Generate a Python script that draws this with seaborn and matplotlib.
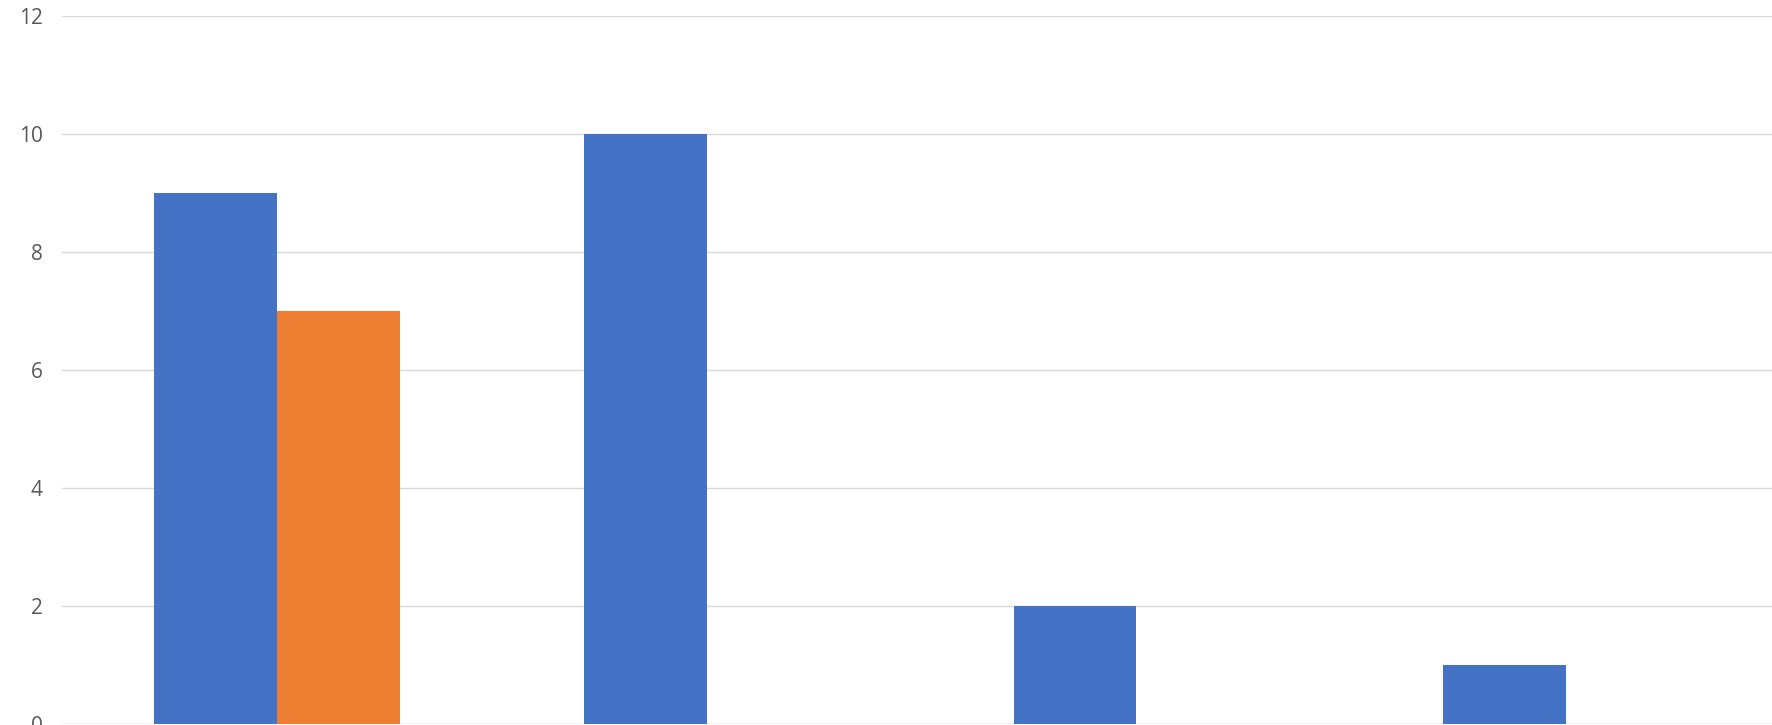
import numpy as np
import matplotlib
matplotlib.use("Agg")
import matplotlib.pyplot as plt
import seaborn as sns
import pandas as pd

# datos
categories = ["Cat 1", "Cat 2", "Cat 3", "Cat 4"]
series_names = ["Series 1", "Series 2"]
series1 = [9, 10, 2, 1]
series2 = [7, 0, 0, 0]
yticks = [0, 2, 4, 6, 8, 10, 12]

df = pd.DataFrame({
    "category": categories * 2,
    "series": [series_names[0]] * 4 + [series_names[1]] * 4,
    "value": series1 + series2,
})

sns.set_theme(style="white")
plt.rcParams["font.family"] = ["Open Sans", "DejaVu Sans"]

W, H = 1772, 725
fig = plt.figure(figsize=(W / 100, H / 100), dpi=100)
# el gráfico original está recortado a la derecha y abajo
ax = fig.add_axes([62 / W, 1 / H, (1781 - 62) / W, (724 - 16) / H])

sns.barplot(
    data=df, x="category", y="value", hue="series",
    palette=["#4472C4", "#ED7D31"], width=0.571,
    saturation=1, legend=False, ax=ax, zorder=3, linewidth=0,
)

ax.set_xlim(-0.5, 3.5)
ax.set_ylim(0, 12)
ax.set_yticks(yticks)
ax.set_yticklabels([str(t) for t in yticks], color="#595959", fontsize=15)
ax.tick_params(axis="y", length=0, pad=14)
ax.set_xticks([])
ax.set_xlabel("")
ax.set_ylabel("")
ax.grid(axis="y", color="#d9d9d9", lw=1.0, zorder=0)
ax.set_axisbelow(True)
for s in ax.spines.values():
    s.set_visible(False)

fig.savefig("out.png", dpi=100)
